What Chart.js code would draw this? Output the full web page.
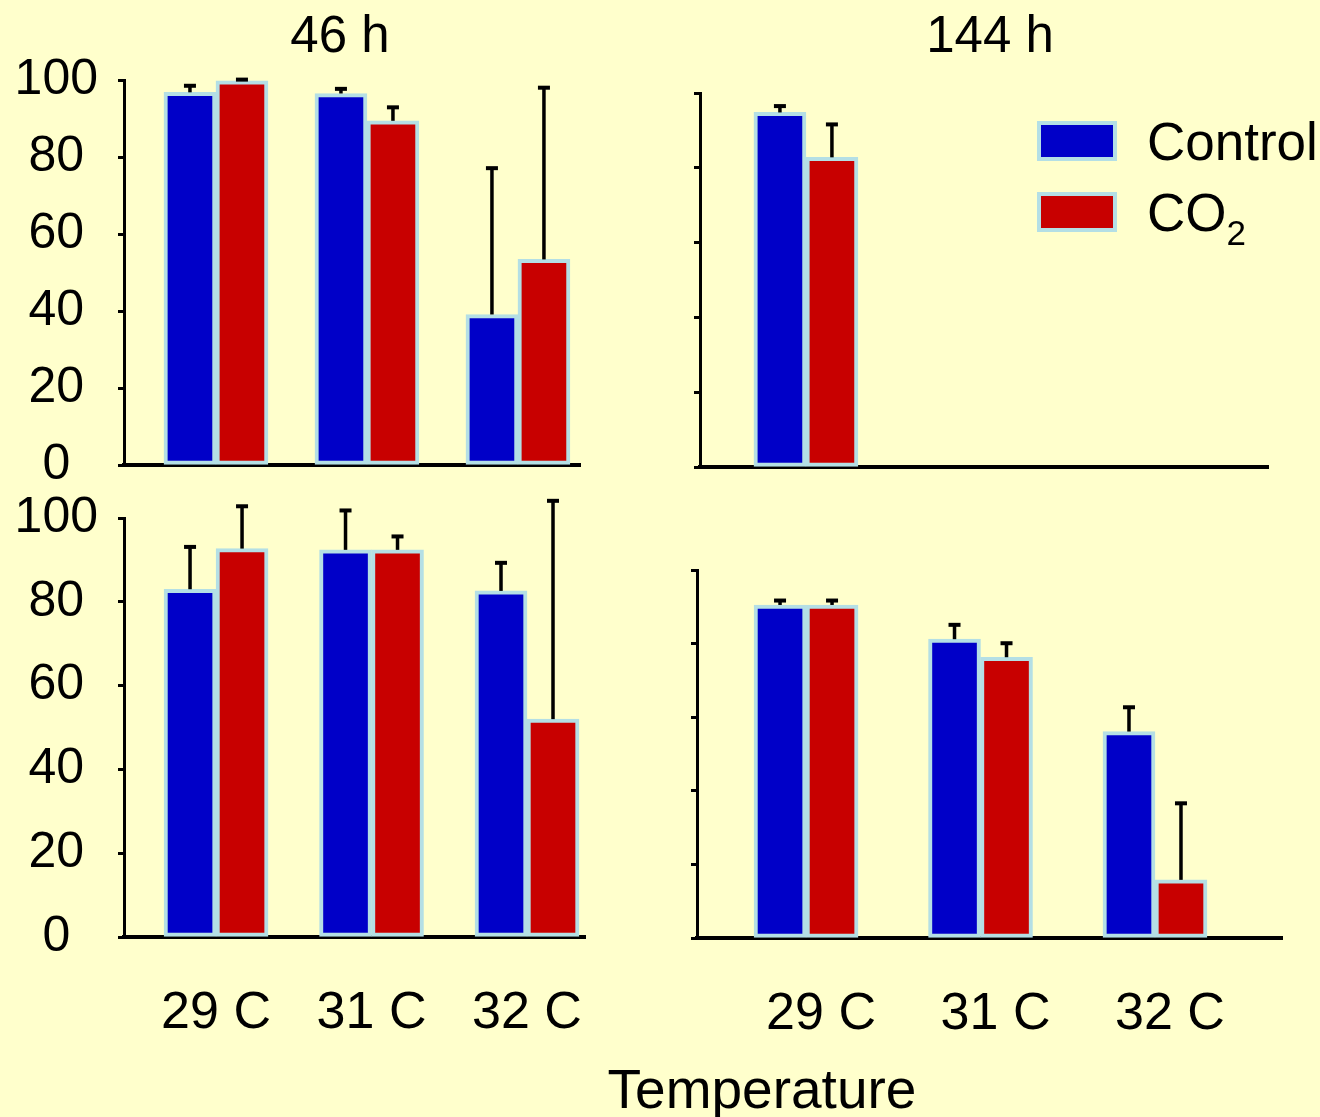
<!DOCTYPE html>
<html>
<head>
<meta charset="utf-8">
<script src="https://cdn.jsdelivr.net/npm/chart.js@4.4.1/dist/chart.umd.min.js"></script>
<style>
  body { margin: 0; width: 1320px; height: 1117px; background: #FFFFCC; position: relative; overflow: hidden;
         font-family: "Liberation Sans", Arial, sans-serif; }
  canvas { position: absolute; }
  .txt { position: absolute; color: #000; font-size: 51px; line-height: 1; white-space: nowrap; }
  .mid { transform: translate(-50%, -50%); }
  .lbox { position: absolute; width: 80px; height: 40px; box-sizing: border-box; border: 4px solid #B4DFE5; }
  .ltxt { transform: translateY(-50%); font-size: 53px; }
  .axt { font-size: 55px; }
  sub { font-size: 35px; vertical-align: baseline; position: relative; top: 14px; }
</style>
</head>
<body>
<script>
"use strict";

// categories and series
var categories = ['29 C', '31 C', '32 C'];
var seriesNames = ['Control', 'CO<sub>2</sub>'];
var seriesColors = ['#0000C8', '#C80000'];
var edgeColor = '#B4DFE5';
var yTicks = [0, 20, 40, 60, 80, 100];

// top row, 46 h
var top46Control = [96.8, 96.5, 39.1];
var top46ControlErr = [1.7, 1.2, 38.0];
var top46CO2 = [99.8, 89.4, 53.4];
var top46CO2Err = [0.3, 3.5, 44.6];

// top row, 144 h
var top144Control = [94.8, 0, 0];
var top144ControlErr = [1.7, 0, 0];
var top144CO2 = [82.8, 0, 0];
var top144CO2Err = [8.8, 0, 0];

// bottom row, 46 h
var bot46Control = [83.0, 92.4, 82.6];
var bot46ControlErr = [10.1, 9.4, 6.7];
var bot46CO2 = [92.7, 92.4, 52.0];
var bot46CO2Err = [10.1, 3.2, 52.1];

// bottom row, 144 h
var bot144Control = [90.5, 81.2, 56.1];
var bot144ControlErr = [1.2, 3.9, 6.6];
var bot144CO2 = [90.5, 76.3, 15.8];
var bot144CO2Err = [1.2, 3.8, 20.8];

Chart.defaults.font.family = '"Liberation Sans", Arial, sans-serif';
Chart.defaults.color = '#000';

// error bars: stem from bar top plus a small cap
var errorBars = {
    id: 'errorBars',
    afterDatasetsDraw: function (chart) {
        var ctx = chart.ctx;
        var yScale = chart.scales.y;
        ctx.save();
        ctx.fillStyle = '#000';
        chart.data.datasets.forEach(function (ds, di) {
            chart.getDatasetMeta(di).data.forEach(function (bar, i) {
                var v = ds.data[i].y;
                if (!v) return;
                var top = yScale.getPixelForValue(v + ds.err[i]);
                ctx.fillRect(bar.x - 1.75, top, 3.5, bar.y - top);
                ctx.fillRect(bar.x - 6, top - 2, 12, 4);
            });
        });
        ctx.restore();
    }
};

function points(vals) {
    return vals.map(function (v, i) { return { x: i, y: v }; });
}

function makePanel(p) {
    var cv = document.createElement('canvas');
    cv.width = p.w;
    cv.height = p.h;
    cv.style.left = p.x + 'px';
    cv.style.top = p.y + 'px';
    document.body.appendChild(cv);
    return new Chart(cv, {
        type: 'bar',
        data: {
            datasets: [
                { label: 'Control', data: points(p.control), err: p.controlErr, backgroundColor: seriesColors[0] },
                { label: 'CO2', data: points(p.co2), err: p.co2Err, backgroundColor: seriesColors[1] }
            ]
        },
        options: {
            responsive: false,
            animation: false,
            layout: { padding: { left: 0, top: p.padTop, right: p.padRight, bottom: p.padBottom } },
            plugins: { legend: { display: false }, tooltip: { enabled: false } },
            datasets: { bar: { barThickness: 52, borderWidth: 4, borderColor: edgeColor, borderSkipped: false } },
            scales: {
                x: {
                    type: 'linear',
                    offset: false,
                    min: p.xMin,
                    max: p.xMax,
                    grid: { display: false, drawTicks: false, offset: false },
                    border: { display: true, color: '#000', width: 4 },
                    afterBuildTicks: function (s) {
                        s.ticks = categories.map(function (c, i) { return { value: i }; });
                    },
                    ticks: {
                        display: p.xLabels,
                        autoSkip: false,
                        maxRotation: 0,
                        padding: 45,
                        labelOffset: p.labelOffset || 0,
                        font: { size: 52 },
                        callback: function (v) { return categories[v]; }
                    },
                    afterFit: function (s) { s.height = p.xAxisH; }
                },
                y: {
                    min: 0,
                    max: 100,
                    afterBuildTicks: function (s) {
                        s.ticks = yTicks.map(function (v) { return { value: v }; });
                    },
                    grid: { display: true, drawOnChartArea: false, drawTicks: true, tickLength: 6, tickWidth: 3, tickColor: '#000' },
                    border: { display: true, color: '#000', width: 3 },
                    ticks: { display: p.yLabels, padding: 20, crossAlign: 'center', font: { size: 50 } },
                    afterFit: function (s) { s.width = p.yAxisW; }
                }
            }
        },
        plugins: [errorBars]
    });
}

var panels = [
    { x: 0, y: 25, w: 640, h: 495, padTop: 55, padRight: 60, padBottom: 50, yAxisW: 124, xAxisH: 5,
      xMin: -0.609, xMax: 2.411, xLabels: false, yLabels: true,
      control: top46Control, controlErr: top46ControlErr, co2: top46CO2, co2Err: top46CO2Err },
    { x: 680, y: 38, w: 640, h: 455, padTop: 55, padRight: 52, padBottom: 21, yAxisW: 20, xAxisH: 5,
      xMin: -0.607, xMax: 2.648, xLabels: false, yLabels: false,
      control: top144Control, controlErr: top144ControlErr, co2: top144CO2, co2Err: top144CO2Err },
    { x: 0, y: 463, w: 640, h: 589, padTop: 55, padRight: 55, padBottom: 5, yAxisW: 124, xAxisH: 110,
      xMin: -0.592, xMax: 2.373, xLabels: true, yLabels: true,
      control: bot46Control, controlErr: bot46ControlErr, co2: bot46CO2, co2Err: bot46CO2Err },
    { x: 677, y: 515, w: 643, h: 538, padTop: 55, padRight: 38, padBottom: 5, yAxisW: 20, xAxisH: 110,
      xMin: -0.625, xMax: 2.728, xLabels: true, yLabels: false, labelOffset: 15,
      control: bot144Control, controlErr: bot144ControlErr, co2: bot144CO2, co2Err: bot144CO2Err }
];
panels.forEach(makePanel);

// titles and axis title
function addText(html, x, y, cls) {
    var d = document.createElement('div');
    d.className = 'txt ' + cls;
    d.style.left = x + 'px';
    d.style.top = y + 'px';
    d.innerHTML = html;
    document.body.appendChild(d);
}
addText('46 h', 340, 34, 'mid');
addText('144 h', 990, 34, 'mid');
addText('Temperature', 762, 1089, 'mid axt');

// legend
var legendTop = [121, 192];
seriesNames.forEach(function (name, i) {
    var b = document.createElement('div');
    b.className = 'lbox';
    b.style.left = '1037px';
    b.style.top = legendTop[i] + 'px';
    b.style.background = seriesColors[i];
    document.body.appendChild(b);
    addText(name, 1147, legendTop[i] + 20, 'ltxt');
});
</script>
</body>
</html>
